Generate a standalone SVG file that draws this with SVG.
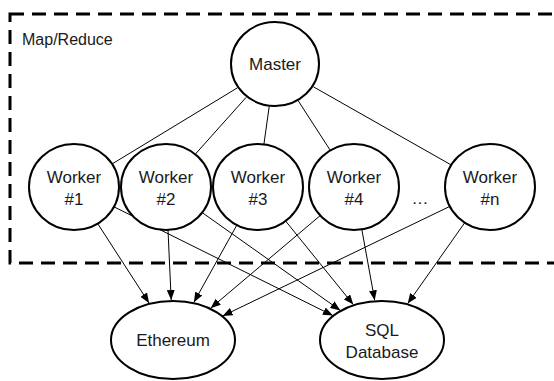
<svg xmlns="http://www.w3.org/2000/svg" width="554" height="381" viewBox="0 0 554 381">
<style>
.node{fill:#fff;stroke:#000;stroke-width:2}
.lbl{font-family:"Liberation Sans",Arial,Helvetica,sans-serif;font-size:17px;fill:#1a1a1a;text-anchor:middle}
.edge{stroke:#000;stroke-width:1;fill:none}
.arrow{stroke:#000;stroke-width:1;fill:none;marker-end:url(#ah)}
</style>
<defs>
<marker id="ah" markerUnits="userSpaceOnUse" markerWidth="11" markerHeight="8" refX="10" refY="4" orient="auto">
<path d="M0,0 L10,4 L0,8 z" fill="#000"/>
</marker>
</defs>
<g id="mapreduce">
<rect x="10" y="14" width="580" height="249" fill="none" stroke="#000" stroke-width="3" stroke-dasharray="14 8"/>
<text x="22" y="45" font-family="Liberation Sans,Arial,sans-serif" font-size="16" fill="#1a1a1a">Map/Reduce</text>
</g>
<g id="connectors">
<line class="edge" x1="237.3" y1="87.9" x2="112" y2="164"/>
<line class="edge" x1="246.2" y1="97.3" x2="195.2" y2="154.3"/>
<line class="edge" x1="269.2" y1="106.6" x2="263.9" y2="144.4"/>
<line class="edge" x1="298.3" y1="100.9" x2="330.3" y2="150.4"/>
<line class="edge" x1="313.4" y1="86.8" x2="451.3" y2="165"/>
<line class="arrow" x1="97.7" y1="223.6" x2="149.1" y2="303.1"/>
<line class="arrow" x1="168" y1="230" x2="171.2" y2="300"/>
<line class="arrow" x1="236.9" y1="225" x2="193.9" y2="302.3"/>
<line class="arrow" x1="320.3" y1="215.5" x2="210.6" y2="308.2"/>
<line class="arrow" x1="449.8" y1="206.4" x2="222.6" y2="316"/>
<line class="arrow" x1="113.9" y1="206.8" x2="332.9" y2="315.6"/>
<line class="arrow" x1="202.2" y1="212.6" x2="340.3" y2="310.4"/>
<line class="arrow" x1="285.6" y1="221" x2="353.3" y2="304.6"/>
<line class="arrow" x1="361.8" y1="229.4" x2="374.7" y2="300.3"/>
<line class="arrow" x1="464.8" y1="222.6" x2="407.7" y2="303.6"/>
</g>
<g id="master">
<ellipse class="node" cx="275" cy="64" rx="44" ry="42"/>
<text class="lbl" x="275" y="70">Master</text>
</g>
<g id="worker1">
<ellipse class="node" cx="74" cy="187" rx="45" ry="43"/>
<text class="lbl" x="74" y="183">Worker</text>
<text class="lbl" x="74" y="205">#1</text>
</g>
<g id="worker2">
<ellipse class="node" cx="166" cy="187" rx="45" ry="43"/>
<text class="lbl" x="166" y="183">Worker</text>
<text class="lbl" x="166" y="205">#2</text>
</g>
<g id="worker3">
<ellipse class="node" cx="258" cy="187" rx="45" ry="43"/>
<text class="lbl" x="258" y="183">Worker</text>
<text class="lbl" x="258" y="205">#3</text>
</g>
<g id="worker4">
<ellipse class="node" cx="354" cy="187" rx="45" ry="43"/>
<text class="lbl" x="354" y="183">Worker</text>
<text class="lbl" x="354" y="205">#4</text>
</g>
<g id="ellipsis">
<text class="lbl" x="420" y="204">…</text>
</g>
<g id="workern">
<ellipse class="node" cx="490" cy="187" rx="45" ry="43"/>
<text class="lbl" x="490" y="183">Worker</text>
<text class="lbl" x="490" y="205">#n</text>
</g>
<g id="ethereum">
<ellipse class="node" cx="173" cy="340" rx="62" ry="39"/>
<text class="lbl" x="173" y="346">Ethereum</text>
</g>
<g id="sql">
<ellipse class="node" cx="382" cy="340" rx="62" ry="39"/>
<text class="lbl" x="382" y="336">SQL</text>
<text class="lbl" x="382" y="358">Database</text>
</g>
</svg>
